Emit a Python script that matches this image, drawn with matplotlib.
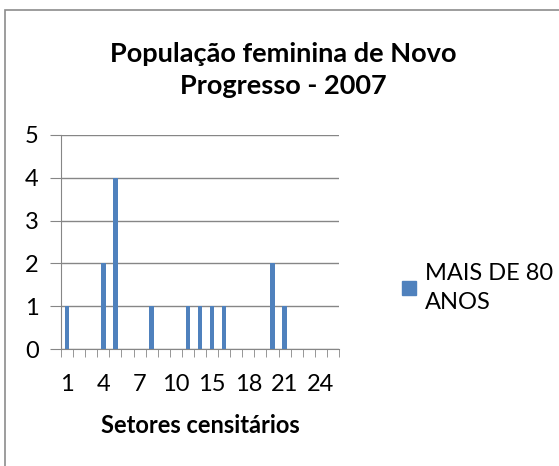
import numpy as np
import matplotlib.pyplot as plt
from matplotlib.patches import Rectangle
from matplotlib.lines import Line2D

# setores censitarios (category labels) and counts
setores = ['1', '2', '3', '4', '5', '6', '7', '8', '9', '10', '12', '13',
           '15', '16', '17', '18', '19', '20', '21', '22', '23', '24', '25']
mais_de_80 = [1, 0, 0, 2, 4, 0, 0, 1, 0, 0, 1, 1,
              1, 1, 0, 0, 0, 2, 1, 0, 0, 0, 0]

bar_color = '#4F81BD'
grid_color = '#868686'

plt.rcParams['font.family'] = ['Lato', 'DejaVu Sans']

W, H = 559, 466
fig = plt.figure(figsize=(W / 100, H / 100), dpi=100)

# outer chart frame
fig.patches.append(Rectangle((5 / W, -0.1), 1.1, (H - 10) / H + 0.1, transform=fig.transFigure,
                             fill=False, edgecolor='#8c8c8c', linewidth=1.2))

ax = fig.add_axes([61 / W, (H - 349) / H, 278 / W, 214 / H])
x = np.arange(len(setores))
ax.bar(x, mais_de_80, width=0.38, color=bar_color, zorder=3)

ax.set_xlim(-0.5, len(setores) - 0.5)
ax.set_ylim(0, 5)
ax.set_yticks(range(6))
ax.yaxis.grid(True, color=grid_color, linewidth=1.0, zorder=0)
ax.tick_params(axis='y', length=8, color=grid_color, labelsize=17, pad=8)

ax.set_xticks(x[::3])
ax.set_xticklabels(setores[::3])
ax.set_xticks(np.arange(-0.5, len(setores), 1), minor=True)
ax.tick_params(axis='x', which='major', length=0, labelsize=17, pad=18)
ax.tick_params(axis='x', which='minor', length=6, color=grid_color)

for s in ['top', 'right']:
    ax.spines[s].set_visible(False)
for s in ['left', 'bottom']:
    ax.spines[s].set_color(grid_color)

ax.set_xlabel('Setores censitários', fontsize=17, fontweight='bold', labelpad=14)

fig.text(283 / W, 1 - 70 / H, 'População feminina de Novo\nProgresso - 2007', ha='center', va='center',
         fontsize=19.5, fontweight='bold', linespacing=1.4)

handle = Line2D([], [], linestyle='none', marker='s', markersize=9.5, color=bar_color)
leg = ax.legend([handle], ['MAIS DE 80\nANOS'], loc='center left', bbox_to_anchor=(378 / W, 1 - 288 / H),
                bbox_transform=fig.transFigure, frameon=False, fontsize=17,
                handlelength=0.8, handletextpad=0.3)
for t in leg.get_texts():
    t.set_linespacing(1.5)

fig.savefig('out.png', dpi=100)
